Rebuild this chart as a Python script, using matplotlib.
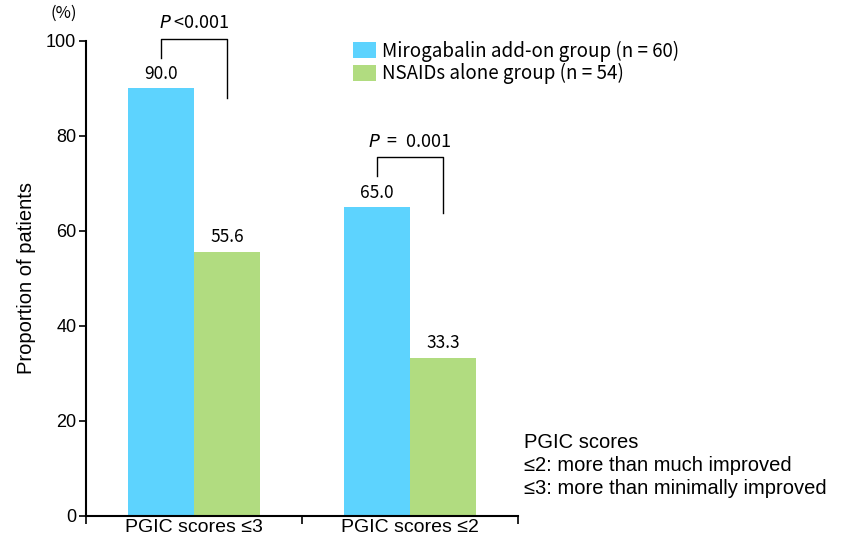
import matplotlib
matplotlib.use("Agg")
import matplotlib.pyplot as plt
import numpy as np

categories = ["PGIC scores \u22643", "PGIC scores \u22642"]
mirogabalin = [90.0, 65.0]
nsaids = [55.6, 33.3]
series_names = ["Mirogabalin add-on group (n = 60)", "NSAIDs alone group (n = 54)"]
p_labels = [" <0.001", " = 0.001"]
yticks = [0, 20, 40, 60, 80, 100]
note_lines = ["PGIC scores", "\u22642: more than much improved", "\u22643: more than minimally improved"]

blue = "#5DD3FE"
green = "#B1DC80"
jp = ["Noto Sans CJK JP", "DejaVu Sans"]
narrow = ["Liberation Sans Narrow", "Liberation Sans", "DejaVu Sans"]

fig = plt.figure(figsize=(8.49, 5.48), dpi=100)
ax = fig.add_axes([0.1013, 0.0584, 0.5088, 0.8668])

x = np.arange(len(categories))
w = 0.306
ax.bar(x - w / 2, mirogabalin, w, color=blue, label=series_names[0])
ax.bar(x + w / 2, nsaids, w, color=green, label=series_names[1])

for i in range(len(categories)):
    ax.text(x[i] - w / 2, mirogabalin[i] + 1.2, "%.1f" % mirogabalin[i], ha="center", va="bottom",
            fontsize=12.5, family=jp)
    ax.text(x[i] + w / 2, nsaids[i] + 1.2, "%.1f" % nsaids[i], ha="center", va="bottom",
            fontsize=12.5, family=jp)

# significance brackets
for i in range(len(categories)):
    top = mirogabalin[i] + 10.5
    xl = x[i] - w / 2
    xr = x[i] + w / 2
    ax.plot([xl, xl, xr, xr], [mirogabalin[i] + 6.5, top, top, nsaids[i] + (32.4 if i == 0 else 30.5)],
            color="black", lw=1, clip_on=False)
    ax.text(x[i], top + 1.3, "$P$" + p_labels[i].replace(" = ", "  =  "), ha="center", va="bottom",
            fontsize=13, family=jp, clip_on=False)

ax.set_xlim(-0.5, 1.5)
ax.set_ylim(0, 100)
ax.set_yticks(yticks)
ax.set_yticklabels([str(t) for t in yticks], family=narrow, fontsize=13)
ax.set_xticks(x)
ax.set_xticklabels(categories, family=narrow, fontsize=14)
ax.tick_params(axis="x", length=0, pad=2)
ax.set_xticks([-0.5, 0.5, 1.5], minor=True)
ax.tick_params(axis="x", which="minor", length=6, width=1.2, direction="out")
ax.tick_params(axis="y", length=5, width=1.2, pad=2)

for s in ["top", "right"]:
    ax.spines[s].set_visible(False)
ax.spines["left"].set_linewidth(1.5)
ax.spines["bottom"].set_linewidth(1.5)

ax.set_ylabel("Proportion of patients", family=narrow, fontsize=14.5, labelpad=7)
fig.text(0.075, 0.975, "(%)", ha="center", va="center", fontsize=12, family=jp)

leg = fig.legend(loc="upper left", bbox_to_anchor=(0.407, 0.94), frameon=False,
                 prop={"family": jp, "size": 13.5}, handlelength=1.2, handleheight=0.9,
                 handletextpad=0.35, labelspacing=0.08, borderaxespad=0)

fig.text(0.617, 0.151, "\n".join(note_lines), ha="left", va="center", fontsize=14.5,
         family=narrow, linespacing=1.25)

plt.savefig("out.png", dpi=100)
